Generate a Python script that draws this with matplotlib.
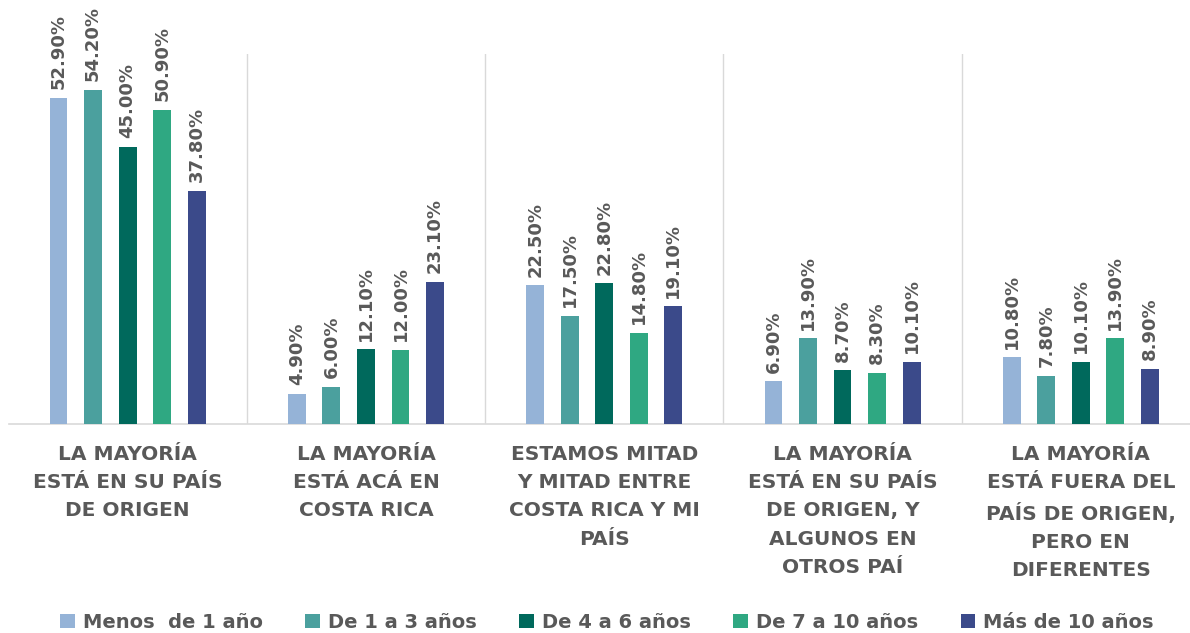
import matplotlib
matplotlib.use("Agg")
import matplotlib.pyplot as plt
import numpy as np

categories = [
    "LA MAYORÍA\nESTÁ EN SU PAÍS\nDE ORIGEN",
    "LA MAYORÍA\nESTÁ ACÁ EN\nCOSTA RICA",
    "ESTAMOS MITAD\nY MITAD ENTRE\nCOSTA RICA Y MI\nPAÍS",
    "LA MAYORÍA\nESTÁ EN SU PAÍS\nDE ORIGEN, Y\nALGUNOS EN\nOTROS PAÍ",
    "LA MAYORÍA\nESTÁ FUERA DEL\nPAÍS DE ORIGEN,\nPERO EN\nDIFERENTES",
]
series_names = ["Menos  de 1 año", "De 1 a 3 años", "De 4 a 6 años",
                "De 7 a 10 años", "Más de 10 años"]
menos_1 = [52.9, 4.9, 22.5, 6.9, 10.8]
de_1_3 = [54.2, 6.0, 17.5, 13.9, 7.8]
de_4_6 = [45.0, 12.1, 22.8, 8.7, 10.1]
de_7_10 = [50.9, 12.0, 14.8, 8.3, 13.9]
mas_10 = [37.8, 23.1, 19.1, 10.1, 8.9]
series = [menos_1, de_1_3, de_4_6, de_7_10, mas_10]
colors = ["#95B3D7", "#4BA09E", "#00695C", "#2FA882", "#3B4A8A"]

W, H = 1190, 633
fig = plt.figure(figsize=(W / 100, H / 100), dpi=100)
left_px, right_px = 8.5, 1200
base_px, top_px = 424, 54
ax = fig.add_axes([left_px / W, 1 - base_px / H,
                   (right_px - left_px) / W, (base_px - top_px) / H])

n = len(categories)
x = np.arange(n)
step = 0.145
bw = 0.075
label_color = "#595959"
for i, (vals, c, name) in enumerate(zip(series, colors, series_names)):
    pos = x + (i - 2) * step
    ax.bar(pos, vals, width=bw, color=c, label=name, zorder=3)
    for p, v in zip(pos, vals):
        ax.text(p, v + 1.4, f"{v:.2f}%", rotation=90, ha="center", va="bottom",
                fontsize=13, fontweight="bold", color=label_color,
                family="DejaVu Sans")

ax.set_xlim(-0.5, n - 0.5)
ax.set_ylim(0, 60)
for s in ["top", "right", "left"]:
    ax.spines[s].set_visible(False)
ax.spines["bottom"].set_color("#D9D9D9")
ax.spines["bottom"].set_linewidth(1.2)
ax.set_yticks([])
for k in range(1, n):
    ax.axvline(k - 0.5, ymin=0, ymax=1, color="#D9D9D9", lw=1, zorder=1)

ax.set_xticks(x)
ax.set_xticklabels(categories, fontsize=14.5, fontweight="bold",
                   color=label_color, linespacing=1.62, family="DejaVu Sans")
ax.tick_params(axis="x", length=0, pad=15)

leg = fig.legend(loc="center", bbox_to_anchor=(0.51, 1 - 622 / H), ncol=5,
                 frameon=False, handlelength=0.75, handleheight=0.75,
                 handletextpad=0.4, columnspacing=2.2,
                 prop={"size": 14, "weight": "bold", "family": "DejaVu Sans"})
for t in leg.get_texts():
    t.set_color(label_color)

fig.savefig("out.png", dpi=100)
